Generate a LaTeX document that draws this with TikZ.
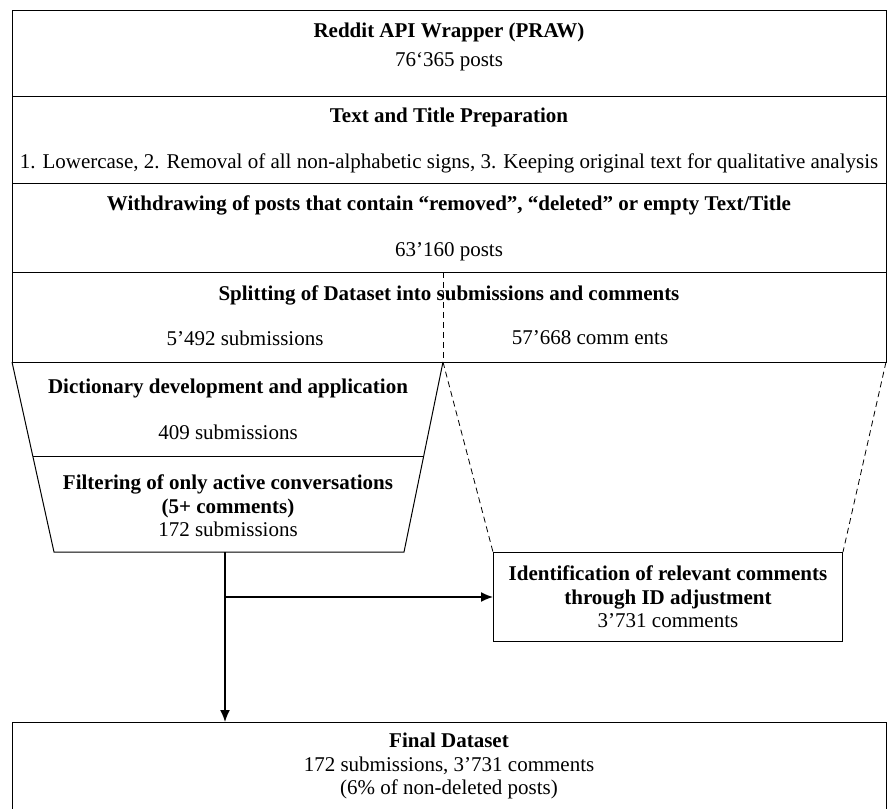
\documentclass[tikz,border=0pt]{standalone}
\usepackage{fontspec}
\setmainfont{Liberation Serif}
\newcommand{\boxfont}{\fontsize{21}{23.5}\selectfont}
\tikzstyle{row}=[rectangle,draw=black,line width=1pt,anchor=north west,
minimum width=874pt,inner sep=0pt]
\tikzstyle{stepbox}=[rectangle,draw=black,line width=1pt,anchor=north west,inner sep=0pt]
\tikzstyle{head}=[font=\boxfont\bfseries,align=center]
\tikzstyle{txt}=[font=\boxfont,align=center]
\tikzstyle{flow}=[line width=1.5pt,-{Latex[length=12pt,width=10pt]}]
\tikzstyle{dashline}=[line width=0.8pt,dash pattern=on 6pt off 4pt]
\usetikzlibrary{arrows.meta,positioning}

\begin{document}
\begin{tikzpicture}[x=1pt,y=-1pt]
            \useasboundingbox (0,0) rectangle (887,809);
            \clip (0,0) rectangle (887,809);

            % COLLECTION PART

            \node[row,minimum height=86pt] (praw) at (12,10) {};
            \node[head] (t1) at (449,32) {Reddit API Wrapper (PRAW)};
            \node[txt] (n1) at (449,62) {76`365 posts};

            \node[row,minimum height=87pt] (prep) at (12,96) {};
            \node[head] (t2) at (449,117) {Text and Title Preparation};
            \node[txt] (n2) at (449,163) {1. Lowercase, 2. Removal of all non-alphabetic signs, 3. Keeping original text for qualitative analysis};

            \node[row,minimum height=89pt] (withdraw) at (12,183) {};
            \node[head] (t3) at (449,205) {Withdrawing of posts that contain ``removed'', ``deleted'' or empty Text/Title};
            \node[txt] (n3) at (449,252) {63'160 posts};

            \node[row,minimum height=90pt] (split) at (12,272) {};
            \node[head] (t4) at (449,295) {Splitting of Dataset into submissions and comments};
            \node[txt] (n4) at (245,338) {5'492 submissions};
            \node[txt] (n5) at (590,338) {57'668 comm ents};

            % SUBMISSION PART

            \coordinate (d1) at (12,362);
            \coordinate (d2) at (443,362);
            \coordinate (d3) at (404,552);
            \coordinate (d4) at (54,552);
            \draw[line width=1pt] (d1) -- (d4) -- (d3) -- (d2);
            \draw[line width=1pt] (33,456) -- (424,456);
            \node[head] (t5) at (228,388) {Dictionary development and application};
            \node[txt] (n6) at (228,432) {409 submissions};
            \node[txt] (filter) at (228,506) {\textbf{Filtering of only active conversations}\\\textbf{(5+ comments)}\\172 submissions};

            % COMMENT PART

            \node[stepbox,minimum width=349pt,minimum height=89pt] (ident) at (493,552) {};
            \node[txt] (n7) at (ident.center) {\textbf{Identification of relevant comments}\\\textbf{through ID adjustment}\\3'731 comments};

            \draw[dashline] (443,272) -- (d2);
            \draw[dashline] (d2) -- (ident.north west);
            \draw[dashline] (886,362) -- (ident.north east);

            % RESULT PART

            \node[row,minimum height=110pt] (final) at (12,722) {};
            \node[txt] (n8) at (449,766) {\textbf{Final Dataset}\\172 submissions, 3'731 comments\\(6\% of non-deleted posts)};

            \coordinate (a1) at (225,552);
            \coordinate (a2) at (225,597);
            \draw[flow] (a1) -- (a1 |- final.north);
            \draw[flow] (a2) -- (a2 -| ident.west);

        \end{tikzpicture}
\end{document}
